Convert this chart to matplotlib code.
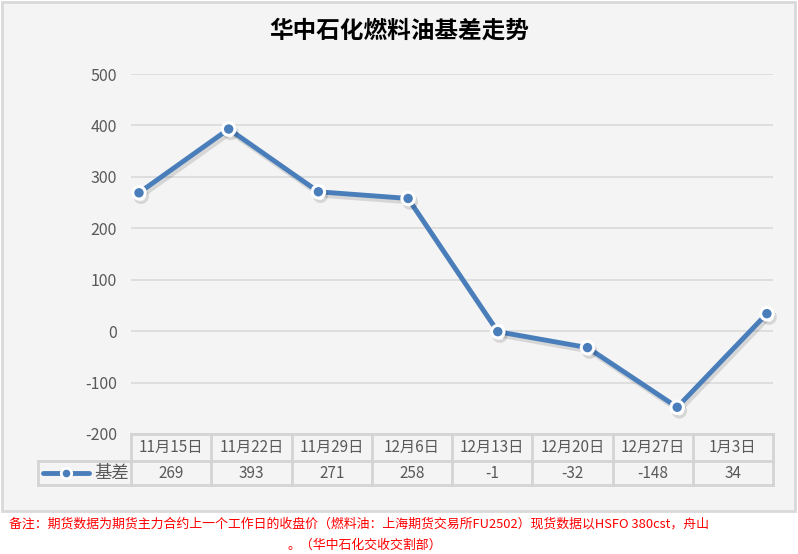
import matplotlib
matplotlib.use("Agg")
import matplotlib.pyplot as plt
from matplotlib.lines import Line2D
from matplotlib.patches import Rectangle
import matplotlib.patheffects as pe

plt.rcParams['font.family'] = ['Noto Sans CJK SC', 'DejaVu Sans']

title = "华中石化燃料油基差走势"
categories = ["11月15日", "11月22日", "11月29日", "12月6日", "12月13日", "12月20日", "12月27日", "1月3日"]
values = [269, 393, 271, 258, -1, -32, -148, 34]
series_name = "基差"
yticks = [500, 400, 300, 200, 100, 0, -100, -200]
note1 = "备注：期货数据为期货主力合约上一个工作日的收盘价（燃料油：上海期货交易所FU2502）现货数据以HSFO 380cst，舟山"
note2 = "。（华中石化交收交割部）"

W, H = 798, 554
fig = plt.figure(figsize=(W/100, H/100), dpi=100)
fig.patch.set_facecolor('white')

def fx(x): return x / W
def fy(y): return 1 - y / H

# outer chart box
fig.patches.append(Rectangle((fx(2), fy(511)), fx(793), (509)/H, transform=fig.transFigure,
                             facecolor='#f4f4f4', edgecolor='#d9d9d9', linewidth=2, zorder=-5))

blue = '#4a7ebb'
grey_txt = '#595959'
grid_c = '#dcdcdc'

left, right, top, bot = 131, 773, 74, 434
ax = fig.add_axes([fx(left), fy(bot), (right-left)/W, (bot-top)/H])
ax.set_zorder(1)
ax.set_facecolor('none')
sp = 89.7
x0 = (139 - left) / sp
ax.set_xlim(-x0, -x0 + (right-left)/sp)
ax.set_ylim(-200, 500)
for s in ax.spines.values():
    s.set_visible(False)
ax.set_xticks([])
ax.set_yticks(yticks)
ax.set_yticklabels([str(v) for v in yticks], color=grey_txt, fontsize=11.5)
ax.tick_params(axis='y', length=0, pad=10)
for v in yticks:
    ax.axhline(v, color=grid_c, linewidth=1.3, zorder=1)

xs = list(range(len(values)))
ax.plot(xs, values, color=blue, linewidth=3.5, zorder=3, solid_capstyle='round',
        marker='o', markersize=9, markerfacecolor=blue, markeredgecolor='white', markeredgewidth=2.2,
        path_effects=[pe.SimpleLineShadow(offset=(1.5, -2.5), shadow_color='#000000', alpha=0.12), pe.Normal()],
        clip_on=False)

# data table
tc = '#d4d4d4'
col_edges = [131 + i * (773 - 131) / len(categories) for i in range(len(categories) + 1)]
r0, r1, r2 = 434, 461, 485
def hline(x1, x2, y):
    fig.lines.append(Line2D([fx(x1), fx(x2)], [fy(y), fy(y)], transform=fig.transFigure, color=tc, linewidth=2, zorder=2))
def vline(x, y1, y2):
    fig.lines.append(Line2D([fx(x), fx(x)], [fy(y1), fy(y2)], transform=fig.transFigure, color=tc, linewidth=2, zorder=2))
hline(131, 773, r0)
hline(38, 773, r1)
hline(38, 773, r2)
vline(38, r1, r2)
for e in col_edges:
    vline(e, r0, r2)
for i, (c, v) in enumerate(zip(categories, values)):
    cx = (col_edges[i] + col_edges[i+1]) / 2
    fig.text(fx(cx), fy((r0+r1)/2), c, ha='center', va='center', fontsize=11, color=grey_txt)
    fig.text(fx(cx), fy((r1+r2)/2), str(v), ha='center', va='center', fontsize=11, color=grey_txt)
# legend key
ly = fy((r1+r2)/2)
fig.lines.append(Line2D([fx(43), fx(89)], [ly, ly], transform=fig.transFigure, color=blue, linewidth=3.5, solid_capstyle='round'))
fig.lines.append(Line2D([fx(66)], [ly], transform=fig.transFigure, marker='o', markersize=7.5, color=blue,
                        markerfacecolor=blue, markeredgecolor='white', markeredgewidth=2))
fig.text(fx(112), ly, series_name, ha='center', va='center', fontsize=12.5, color=grey_txt)

fig.text(fx(399), fy(31), title, ha='center', va='center', fontsize=17, fontweight='bold', color='black')

fig.text(fx(9), fy(524), note1, ha='left', va='center', fontsize=9.3, color='#ff0000')
fig.text(fx(287), fy(545), note2, ha='left', va='center', fontsize=9.3, color='#ff0000')

fig.savefig('out.png', dpi=100)
